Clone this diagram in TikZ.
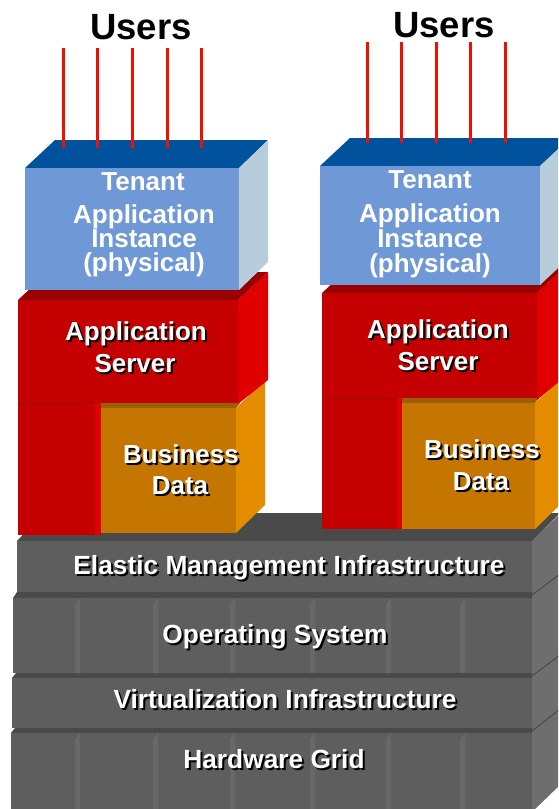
\documentclass[tikz,border=0pt]{standalone}
\usepackage{fontspec}
\setmainfont{Liberation Sans}
\definecolor{tfront}{HTML}{6F98D6}
\definecolor{ttop}{HTML}{00529C}
\definecolor{tside}{HTML}{B7CDDB}
\definecolor{rfront}{HTML}{C40000}
\definecolor{rtop}{HTML}{990000}
\definecolor{rside}{HTML}{E00000}
\definecolor{ofront}{HTML}{C47600}
\definecolor{otop}{HTML}{9B5E00}
\definecolor{oside}{HTML}{E38C00}
\definecolor{gfront}{HTML}{5E5E5E}
\definecolor{gtop}{HTML}{4A4A4A}
\definecolor{gside}{HTML}{6E6E6E}
\definecolor{glight}{HTML}{686868}
\definecolor{userred}{HTML}{EE1100}
\newcommand{\shadowed}[1]{%
  \rlap{\hspace{2pt}\raisebox{-2pt}{\textcolor{black}{#1}}}\textcolor{white}{#1}}
\begin{document}
\begin{tikzpicture}[x=1pt,y=-1pt,
  lbl/.style={font=\fontsize{26}{26}\selectfont\bfseries, anchor=base, inner sep=0pt},
  glbl/.style={font=\fontsize{26.3}{26.3}\selectfont\bfseries, anchor=base, inner sep=0pt},
  ulbl/.style={font=\fontsize{36.5}{36.5}\selectfont\bfseries, anchor=base, inner sep=0pt, text=black},
  userline/.style={draw=userred, line width=3pt},
  sep/.style={draw=gtop, line width=1pt}]
\useasboundingbox (0,0) rectangle (558,809);
\clip (0,0) rectangle (558,809);
% ===== base =====
\fill[gside] (532,541) -- (560,514) -- (560,785) -- (532,812) -- cycle;
\draw[sep] (532,595) -- (560,574);
\draw[sep] (532,676) -- (560,655);
\draw[sep] (532,731) -- (560,709);
\fill[gtop] (17,541) -- (43,513) -- (560,513) -- (532,541) -- cycle;
% Elastic
\fill[gfront] (17,541) rectangle (532,592);
\fill[gtop] (13,598) -- (17,592) -- (532,592) -- (532,598) -- cycle;
% OS
\fill[gfront] (13,598) rectangle (532,673);
\foreach \bx in {75,153,230,310,386,460}{
  \fill[glight] (\bx,604) -- (\bx+5,598) -- (\bx+5,673) -- (\bx,673) -- cycle;
}
\fill[gtop] (12,678) -- (16,673) -- (532,673) -- (532,678) -- cycle;
% Virtualization
\fill[gfront] (12,678) rectangle (532,728);
\fill[gtop] (11,733) -- (15,728) -- (532,728) -- (532,733) -- cycle;
% Hardware
\fill[gfront] (11,733) rectangle (532,812);
\foreach \bx in {75,153,230,310,386,460}{
  \fill[glight] (\bx,739) -- (\bx+5,733) -- (\bx+5,812) -- (\bx,812) -- cycle;
}
\node[glbl] (ema) at (289,574) {\shadowed{Elastic Management Infrastructure}};
\node[glbl] (os) at (275,643) {\shadowed{Operating System}};
\node[glbl] (virt) at (285,708) {\shadowed{Virtualization Infrastructure}};
\node[glbl] (hw) at (274,768) {\shadowed{Hardware Grid}};
% ===== left stack =====
\fill[oside] (236,408) -- (265,380) -- (265,505) -- (236,533) -- cycle;
\fill[otop] (95,408) -- (95,403) -- (240,403) -- (236,408) -- cycle;
\fill[ofront] (101,408) rectangle (236,533);
\fill[rside] (238,300) -- (268,272) -- (268,380) -- (238,404) -- cycle;
\fill[rtop] (18,300) -- (48,272) -- (268,272) -- (238,300) -- cycle;
\fill[rfront] (18,300) rectangle (238,403);
\fill[rfront] (18,403) rectangle (95,535);
\fill[rside] (95,403) rectangle (101,535);
\draw[rtop, line width=0.8pt] (18,403) -- (95,403);
\fill[ttop] (25,168) -- (55,140) -- (268,140) -- (239,168) -- cycle;
\fill[tside] (239,168) -- (268,140) -- (268,262) -- (239,290) -- cycle;
\fill[tfront] (25,168) rectangle (239,290);
\node[lbl,text=white] (lt1) at (143,190) {Tenant};
\node[lbl,text=white] (lt2) at (144,223) {Application};
\node[lbl,text=white] (lt3) at (144,247) {Instance};
\node[lbl,text=white] (lt4) at (144,271) {(physical)};
\node[lbl] (las1) at (136,340) {\shadowed{Application}};
\node[lbl] (las2) at (135,372) {\shadowed{Server}};
\node[lbl] (lbd1) at (181,463) {\shadowed{Business}};
\node[lbl] (lbd2) at (180,494) {\shadowed{Data}};
% ===== right stack =====
\fill[oside] (535,403) -- (565,375) -- (565,500) -- (535,529) -- cycle;
\fill[otop] (397,403) -- (397,398) -- (539,398) -- (535,403) -- cycle;
\fill[ofront] (402,403) rectangle (535,529);
\fill[rside] (537,293) -- (567,265) -- (567,375) -- (537,400) -- cycle;
\fill[rtop] (322,293) -- (352,265) -- (567,265) -- (537,293) -- cycle;
\fill[rfront] (322,293) rectangle (537,398);
\fill[rfront] (322,398) rectangle (397,529);
\fill[rside] (397,398) rectangle (402,529);
\draw[rtop, line width=0.8pt] (322,398) -- (397,398);
\fill[ttop] (320,166) -- (350,138) -- (570,138) -- (540,166) -- cycle;
\fill[tside] (540,166) -- (570,138) -- (570,257) -- (540,285) -- cycle;
\fill[tfront] (320,166) rectangle (540,285);
\node[lbl,text=white] (rt1) at (430,188) {Tenant};
\node[lbl,text=white] (rt2) at (430,222) {Application};
\node[lbl,text=white] (rt3) at (430,247) {Instance};
\node[lbl,text=white] (rt4) at (430,272) {(physical)};
\node[lbl] (ras1) at (438,338) {\shadowed{Application}};
\node[lbl] (ras2) at (438,370) {\shadowed{Server}};
\node[lbl] (rbd1) at (482,458) {\shadowed{Business}};
\node[lbl] (rbd2) at (481,490) {\shadowed{Data}};
% ===== users =====
\node[ulbl] (lusers) at (141,39) {Users};
\node[ulbl] (rusers) at (444,37) {Users};
\foreach \ux [count=\i] in {63,97,132,167,201}{
  \coordinate (lu\i a) at (\ux,48);
  \coordinate (lu\i b) at (\ux,148);
  \draw[userline] (lu\i a) -- (lu\i b);
}
\foreach \ux [count=\i] in {367,401,436,470,505}{
  \coordinate (ru\i a) at (\ux,42);
  \coordinate (ru\i b) at (\ux,143);
  \draw[userline] (ru\i a) -- (ru\i b);
}
\end{tikzpicture}
\end{document}
